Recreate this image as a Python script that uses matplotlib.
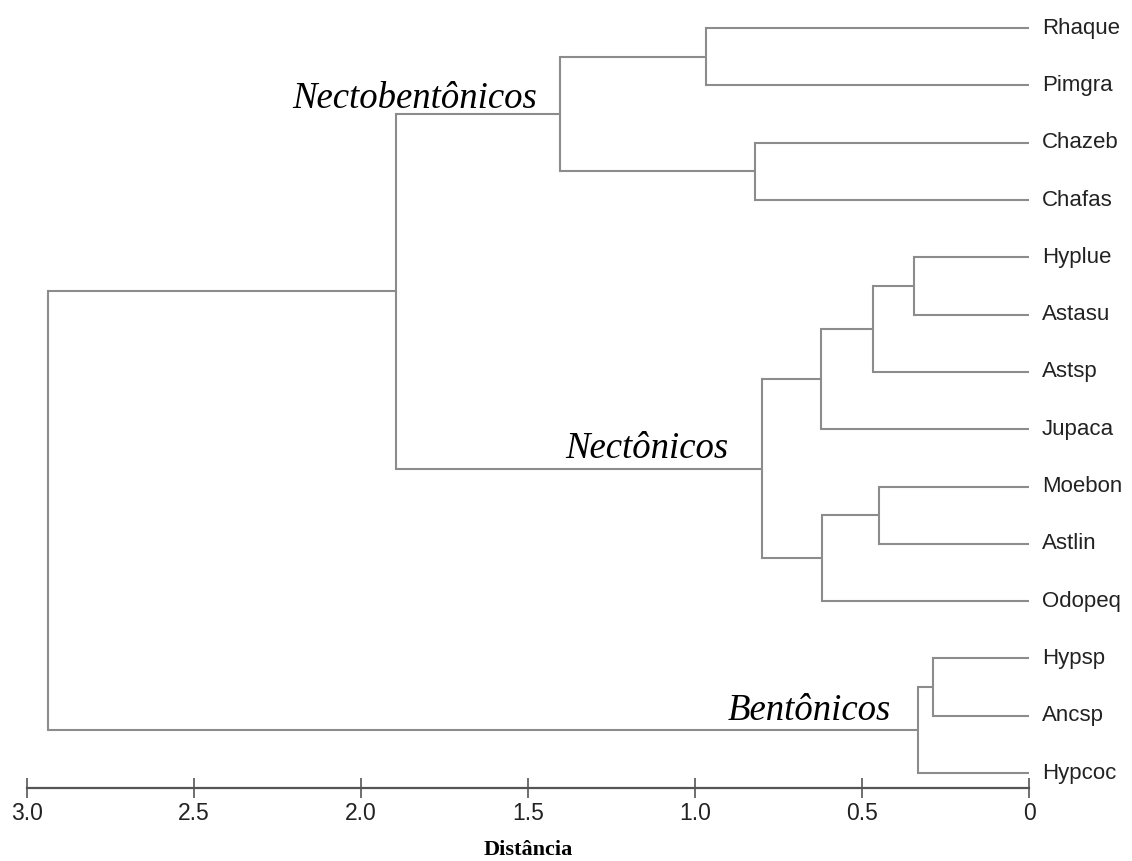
import matplotlib
matplotlib.use("Agg")
from matplotlib import pyplot as plt

# leaves from top to bottom
leaves = ["Rhaque", "Pimgra", "Chazeb", "Chafas", "Hyplue", "Astasu", "Astsp",
          "Jupaca", "Moebon", "Astlin", "Odopeq", "Hypsp", "Ancsp", "Hypcoc"]

# merges, linkage style: ids < 14 are leaves, 14+ are earlier clusters
merge_pairs = [(0, 1), (2, 3), (14, 15),
               (4, 5), (17, 6), (18, 7),
               (8, 9), (20, 10), (19, 21),
               (16, 22),
               (11, 12), (24, 13),
               (23, 25)]
merge_heights = [0.967, 0.820, 1.404,
                 0.343, 0.467, 0.624,
                 0.450, 0.620, 0.799,
                 1.895,
                 0.286, 0.332,
                 2.937]

# group names: (text, distance at right edge, leaf row of baseline)
groups = ["Nectobentônicos", "Nectônicos", "Bentônicos"]
group_x = [1.473, 0.901, 0.413]
group_y = [1.40, 7.50, 12.08]

xticks = [3.0, 2.5, 2.0, 1.5, 1.0, 0.5, 0.0]
xtick_labels = ["3.0", "2.5", "2.0", "1.5", "1.0", "0.5", "0"]

W, H = 1132, 861
fig = plt.figure(figsize=(W / 100, H / 100), dpi=100)
ax = fig.add_axes([27 / W, 1 - 788 / H, (1029 - 27) / W, 788 / H])

line_color = "#8c8c8c"
lw = 1.5

# node positions: (height, y)
pos = {i: (0.0, float(i)) for i in range(len(leaves))}
n = len(leaves)
for k, ((a, b), h) in enumerate(zip(merge_pairs, merge_heights)):
    xa, ya = pos[a]
    xb, yb = pos[b]
    ax.plot([xa, h], [ya, ya], color=line_color, lw=lw, solid_capstyle="butt")
    ax.plot([xb, h], [yb, yb], color=line_color, lw=lw, solid_capstyle="butt")
    ax.plot([h, h], [ya, yb], color=line_color, lw=lw, solid_capstyle="projecting")
    pos[n + k] = (h, (ya + yb) / 2)

for i, name in enumerate(leaves):
    ax.text(-0.039, i, name, ha="left", va="center", fontsize=16,
            family="Liberation Sans", color="#222222", clip_on=False)

for name, gx, gy in zip(groups, group_x, group_y):
    ax.text(gx, gy, name, ha="right", va="baseline", fontsize=26.5,
            family="Liberation Serif", style="italic", color="black")

ax.set_xlim(3.0, 0.0)
ax.set_ylim(13.26, -0.49)

for side in ["top", "left", "right"]:
    ax.spines[side].set_visible(False)
ax.spines["bottom"].set_color("#555555")
ax.spines["bottom"].set_linewidth(1.6)

ax.set_yticks([])
ax.set_xticks(xticks)
ax.set_xticklabels(xtick_labels, fontsize=16.5, family="Liberation Sans", color="#222222")
ax.tick_params(axis="x", direction="inout", length=14, width=1.2, color="#555555", pad=3)

fig.text(528 / W, 1 - 850 / H, "Distância", ha="center", va="center",
         fontsize=16, family="Liberation Serif", weight="bold")

fig.savefig("out.png", dpi=100, facecolor="white")
